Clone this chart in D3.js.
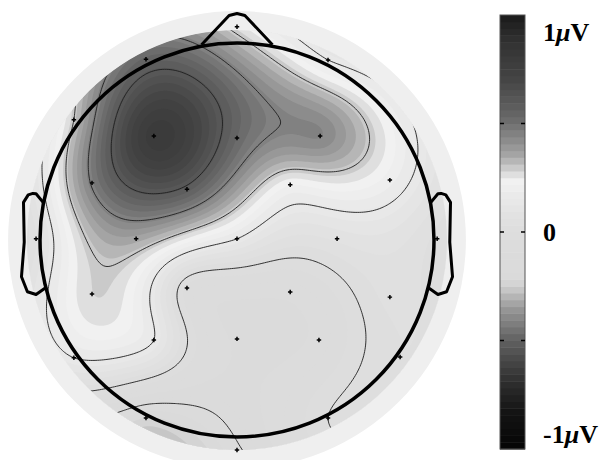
<!DOCTYPE html>
<html>
<head>
<meta charset="utf-8">
<title></title>
<style>
	body { margin: 0; background: #fff; }
	svg { display: block; }
</style>
</head>
<body>
<svg id="chart" width="600" height="460"></svg>
<script src="https://d3js.org/d3.v7.min.js"></script>
<script>
	// electrode positions, head radius = 0.5 (x to the right, y towards the nose)
	let elecX = [0, -0.231, 0.231, -0.414, -0.211, 0, 0.211, -0.368, -0.127, 0.135, 0.388,
		-0.510, -0.256, 0, 0.254, 0.508, -0.368, -0.127, 0.135, 0.388,
		-0.211, 0, 0.208, -0.414, 0.414, -0.231, 0.231, 0]
	let elecY = [0.541, 0.459, 0.457, 0.305, 0.264, 0.259, 0.264, 0.145, 0.129, 0.140, 0.152,
		0.003, 0.003, 0.003, 0.003, 0.003, -0.137, -0.122, -0.132, -0.145,
		-0.254, -0.251, -0.254, -0.299, -0.297, -0.452, -0.452, -0.533]
	// potential at each electrode, µV
	let elecV = [0.27, 0.54, 0.15, 0.30, 0.80, 0.53, 0.44, 0.46, 0.58, 0.22, 0.20,
		0.06, 0.36, 0.15, 0.07, 0.02, 0.28, -0.04, -0.08, 0.04,
		0.15, -0.10, -0.08, 0.15, 0.03, -0.22, 0.0, -0.16]
	// iso-potential lines, µV
	let contourLevels = [-0.15, 0, 0.15, 0.3, 0.45, 0.6]

	// colour map
	let cmapValues = [-1, -0.82, -0.67, -0.5, -0.36, -0.28, -0.25, -0.21, 0, 0.1, 0.19, 0.24, 0.27, 0.3, 0.35, 0.41, 0.5, 0.56, 0.71, 0.87, 1]
	let cmapGrays = ["#050505", "#151515", "#333333", "#606060", "#959595", "#bdbdbd", "#d0d0d0", "#dadada", "#dddddd", "#e4e4e4",
		"#ececec", "#f2f2f2", "#dcdcdc", "#c8c8c8", "#a8a8a8", "#909090", "#707070", "#606060", "#444444", "#333333", "#1a1a1a"]
	let barTicks = [-0.5, 0, 0.5]
	let barLabelValues = [1, 0, -1]
	let barLabelNums = ["1", "0", "-1"]

	// head outline (eeglab style)
	let noseX = [0.09, 0.02, 0, -0.02, -0.09]
	let noseY = [0.4954, 0.57, 0.575, 0.57, 0.4954]
	let earX = [0.492, 0.510, 0.518, 0.5299, 0.5419, 0.54, 0.547, 0.532, 0.510, 0.484]
	let earY = [0.0955, 0.1175, 0.1183, 0.1146, 0.0955, -0.0055, -0.0932, -0.1313, -0.1384, -0.1199]

	let svg = d3.select("#chart")
	let cx = 237, cy = 240, headPx = 197
	let x = d3.scaleLinear().domain([-0.5, 0.5]).range([cx - headPx, cx + headPx])
	let y = d3.scaleLinear().domain([-0.5, 0.5]).range([cy + headPx, cy - headPx])
	let maskR = 0.533, ringR = 0.581
	let px = r => r * 2 * headPx

	let nLevels = 64
	let cmap = d3.scaleLinear().domain(cmapValues).range(cmapGrays).clamp(true)
	let qcolor = v => {
		let i = Math.max(0, Math.min(nLevels - 1, Math.floor((v + 1) / 2 * nLevels)))
		return cmap(-1 + (i + 0.5) * 2 / nLevels)
	}

	// biharmonic spline interpolation (griddata 'v4')
	function green(d) { return d > 0 ? d * d * (Math.log(d) - 1) : 0 }
	function solve(A, b) {
		let n = b.length;
		let M = A.map((r, i) => r.concat([b[i]]));
		for (let c = 0; c < n; c++) {
			let p = c;
			for (let r = c + 1; r < n; r++) if (Math.abs(M[r][c]) > Math.abs(M[p][c])) p = r;
			let tmp = M[c]; M[c] = M[p]; M[p] = tmp;
			for (let r = c + 1; r < n; r++) {
				let f = M[r][c] / M[c][c];
				for (let k = c; k <= n; k++) M[r][k] -= f * M[c][k];
			}
		}
		let s = new Array(n);
		for (let r = n - 1; r >= 0; r--) {
			let t = M[r][n];
			for (let k = r + 1; k < n; k++) t -= M[r][k] * s[k];
			s[r] = t / M[r][r];
		}
		return s;
	}
	let nE = elecV.length
	let A = d3.range(nE).map(i => d3.range(nE).map(j =>
		green(Math.hypot(elecX[i] - elecX[j], elecY[i] - elecY[j]))))
	let w = solve(A, elecV)

	let N = 200, ext = 0.55, step = 2 * ext / N
	let grid = new Float64Array(N * N)
	for (let j = 0; j < N; j++) {
		let gy = ext - (j + 0.5) * step
		for (let i = 0; i < N; i++) {
			let gx = -ext + (i + 0.5) * step
			let z = 0
			for (let k = 0; k < nE; k++) z += w[k] * green(Math.hypot(gx - elecX[k], gy - elecY[k]))
			grid[j * N + i] = z
		}
	}

	let path = d3.geoPath(d3.geoTransform({
		point: function(a, b) { this.stream.point(x(-ext + a * step), y(ext - b * step)) }
	}))

	svg.append("clipPath").attr("id", "mask")
		.append("circle").attr("cx", cx).attr("cy", cy).attr("r", px(maskR))

	let map = svg.append("g").attr("clip-path", "url(#mask)")
	let fillThresholds = d3.range(nLevels).map(i => -1 + i * 2 / nLevels)
	map.selectAll("path.band")
		.data(d3.contours().size([N, N]).thresholds(fillThresholds)(grid))
		.enter().append("path")
		.attr("class", "band")
		.attr("d", path)
		.attr("fill", d => qcolor(d.value + 1 / nLevels))

	map.selectAll("path.iso")
		.data(d3.contours().size([N, N]).thresholds(contourLevels)(grid))
		.enter().append("path")
		.attr("class", "iso")
		.attr("d", path)
		.attr("fill", "none")
		.attr("stroke", "#1e1e1e")
		.attr("stroke-width", 0.9)

	// blanking ring
	svg.append("path")
		.attr("transform", `translate(${cx},${cy})`)
		.attr("d", d3.arc().innerRadius(px(maskR)).outerRadius(px(ringR)).startAngle(0).endAngle(2 * Math.PI)())
		.attr("fill", "#efefef")

	svg.append("circle")
		.attr("cx", cx).attr("cy", cy).attr("r", headPx)
		.attr("fill", "none").attr("stroke", "#000").attr("stroke-width", 3.5)

	let outline = d3.line().x(d => x(d[0])).y(d => y(d[1]))
	svg.append("path")
		.attr("d", outline(noseX.map((v, i) => [v, noseY[i]])))
		.attr("fill", "none").attr("stroke", "#000").attr("stroke-width", 3)
		.attr("stroke-linejoin", "round")
	for (let side of [1, -1]) {
		svg.append("path")
			.attr("d", outline(earX.map((v, i) => [side * v, earY[i]])))
			.attr("fill", "none").attr("stroke", "#000").attr("stroke-width", 3)
			.attr("stroke-linejoin", "round")
	}

	svg.selectAll("path.elec")
		.data(elecV)
		.enter().append("path")
		.attr("class", "elec")
		.attr("transform", (d, i) => `translate(${x(elecX[i])},${y(elecY[i])})`)
		.attr("d", d3.symbol(d3.symbolCross).size(11))
		.attr("fill", "#000")

	// colour bar
	let barX = 500, barW = 25
	let yBar = d3.scaleLinear().domain([-1, 1]).range([449, 15])
	let bar = svg.append("g")
	bar.selectAll("rect")
		.data(fillThresholds)
		.enter().append("rect")
		.attr("x", barX).attr("width", barW)
		.attr("y", d => yBar(d + 2 / nLevels))
		.attr("height", d => yBar(d) - yBar(d + 2 / nLevels) + 0.5)
		.attr("fill", d => qcolor(d + 1 / nLevels))
	bar.append("rect")
		.attr("x", barX).attr("y", yBar(1)).attr("width", barW).attr("height", yBar(-1) - yBar(1))
		.attr("fill", "none").attr("stroke", "#555").attr("stroke-width", 1)
	for (let t of barTicks) {
		bar.append("line").attr("x1", barX).attr("x2", barX + 4).attr("y1", yBar(t)).attr("y2", yBar(t))
			.attr("stroke", "#000").attr("stroke-width", 1.5)
		bar.append("line").attr("x1", barX + barW - 4).attr("x2", barX + barW).attr("y1", yBar(t)).attr("y2", yBar(t))
			.attr("stroke", "#000").attr("stroke-width", 1.5)
	}
	let labelShift = [26, 9, -6]
	barLabelValues.forEach((v, i) => {
		let t = bar.append("text")
			.attr("x", 543).attr("y", yBar(v) + labelShift[i])
			.attr("font-family", "Liberation Serif, Times New Roman, serif")
			.attr("font-weight", "bold").attr("font-size", 26)
		t.append("tspan").text(barLabelNums[i])
		if (v !== 0) {
			t.append("tspan").attr("font-style", "italic").text("μ")
			t.append("tspan").text("V")
		}
	})
</script>
</body>
</html>
